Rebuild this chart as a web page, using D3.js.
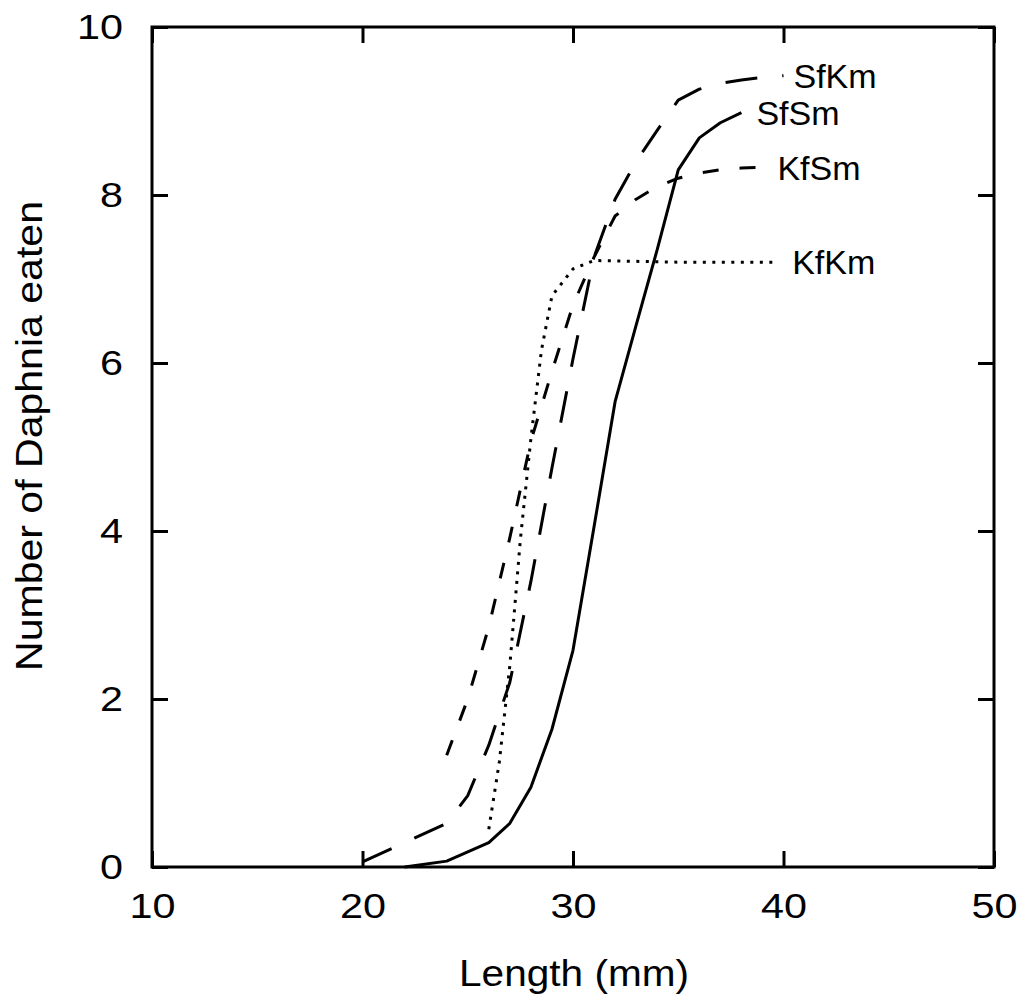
<!DOCTYPE html>
<html><head><meta charset="utf-8">
<script src="https://cdn.jsdelivr.net/npm/d3@7"></script>
<style>body{margin:0;background:#fff} svg{display:block}</style>
</head><body><svg id="c" width="1023" height="1004"></svg>
<script>
// ---- data ----
const xTicks = [10, 20, 30, 40, 50];
const yTicks = [0, 2, 4, 6, 8, 10];

const lengthsSfSm = [22, 24, 26, 27, 28, 29, 30, 31, 32, 33, 34, 35, 36, 37, 38];
const eatenSfSm   = [0, 0.07, 0.29, 0.52, 0.95, 1.64, 2.58, 4.05, 5.54, 6.45, 7.35, 8.3, 8.68, 8.86, 8.98];

const lengthsSfKm = [20, 24, 25, 26, 27, 28, 29, 30, 31, 32, 33, 34, 35, 36, 37, 38, 39, 40];
const eatenSfKm   = [0.06, 0.52, 0.85, 1.45, 2.2, 3.4, 4.75, 6.05, 7.26, 7.95, 8.4, 8.77, 9.13, 9.26, 9.33, 9.37, 9.4, 9.42];

const lengthsKfSm = [24, 25, 26, 27, 28, 29, 30, 31, 32, 33, 34, 35, 36, 37, 38, 39];
const eatenKfSm   = [1.33, 2.0, 2.86, 3.92, 5.07, 5.9, 6.69, 7.26, 7.75, 7.95, 8.1, 8.2, 8.26, 8.3, 8.32, 8.33];

const lengthsKfKm = [26, 26.5, 27, 27.5, 28, 28.5, 29, 30, 31, 35, 39.7];
const eatenKfKm   = [0.45, 1.25, 2.4, 3.9, 5.1, 6.15, 6.8, 7.12, 7.22, 7.2, 7.2];

const seriesNames = ["SfKm", "SfSm", "KfSm", "KfKm"];

// ---- drawing ----
const svg = d3.select("#c");
const x = d3.scaleLinear().domain([10, 50]).range([152, 994]);
const y = d3.scaleLinear().domain([0, 10]).range([867, 27]);
const font = "'Liberation Sans', Arial, Helvetica, sans-serif";

function styleAxis(g) {
  g.select(".domain").remove();
  g.selectAll(".tick line").attr("stroke", "#000").attr("stroke-width", 3);
}

// bottom axis with labels
svg.append("g").attr("transform", "translate(0,867)")
  .call(d3.axisBottom(x).tickValues(xTicks).tickSizeInner(-16).tickSizeOuter(0).tickPadding(26).tickFormat(d3.format("d")))
  .call(styleAxis)
  .call(g => g.selectAll("text").attr("font-family", font).attr("font-size", 35).attr("fill", "#000")
    .attr("textLength", 46).attr("lengthAdjust", "spacingAndGlyphs"));
// top axis ticks
svg.append("g").attr("transform", "translate(0,27)")
  .call(d3.axisTop(x).tickValues(xTicks).tickSizeInner(-16).tickSizeOuter(0).tickFormat(""))
  .call(styleAxis);
// left axis
svg.append("g").attr("transform", "translate(152,0)")
  .call(d3.axisLeft(y).tickValues(yTicks).tickSizeInner(-16).tickSizeOuter(0).tickPadding(29).tickFormat(d3.format("d")))
  .call(styleAxis)
  .call(g => g.selectAll("text").attr("font-family", font).attr("font-size", 35).attr("fill", "#000")
    .attr("textLength", d => d >= 10 ? 46 : 23).attr("lengthAdjust", "spacingAndGlyphs"));
// right axis ticks
svg.append("g").attr("transform", "translate(994,0)")
  .call(d3.axisRight(y).tickValues(yTicks).tickSizeInner(-16).tickSizeOuter(0).tickFormat(""))
  .call(styleAxis);

// frame
svg.append("rect").attr("x", x(10)).attr("y", y(10))
  .attr("width", x(50) - x(10)).attr("height", y(0) - y(10))
  .attr("fill", "none").attr("stroke", "#000").attr("stroke-width", 3);

const line = d3.line().x(d => x(d[0])).y(d => y(d[1]));
const series = [
  { name: "SfKm", xs: lengthsSfKm, ys: eatenSfKm, dash: "32,25", dx: 10 },
  { name: "SfSm", xs: lengthsSfSm, ys: eatenSfSm, dash: null, dx: 15 },
  { name: "KfSm", xs: lengthsKfSm, ys: eatenKfSm, dash: "16,21", dx: 15 },
  { name: "KfKm", xs: lengthsKfKm, ys: eatenKfKm, dash: "3,6.5", dx: 15 }
];

series.forEach(s => {
  const pts = s.xs.map((v, i) => [v, s.ys[i]]);
  svg.append("path").datum(pts)
    .attr("d", line)
    .attr("fill", "none").attr("stroke", "#000").attr("stroke-width", 3)
    .attr("stroke-linejoin", "round")
    .attr("stroke-dasharray", s.dash);
  const last = pts[pts.length - 1];
  svg.append("text")
    .attr("x", x(last[0]) + s.dx).attr("y", y(last[1]))
    .attr("dy", "0.36em")
    .attr("font-family", font).attr("font-size", 34).attr("fill", "#000")
    .text(s.name);
});

// axis titles
svg.append("text")
  .attr("x", 574).attr("y", 986).attr("text-anchor", "middle")
  .attr("font-family", font).attr("font-size", 37).attr("fill", "#000")
  .attr("textLength", 230).attr("lengthAdjust", "spacingAndGlyphs")
  .text("Length (mm)");
svg.append("text")
  .attr("transform", "translate(42,436) rotate(-90)")
  .attr("text-anchor", "middle")
  .attr("font-family", font).attr("font-size", 37).attr("fill", "#000")
  .attr("textLength", 470).attr("lengthAdjust", "spacingAndGlyphs")
  .text("Number of Daphnia eaten");
</script>
</body></html>
